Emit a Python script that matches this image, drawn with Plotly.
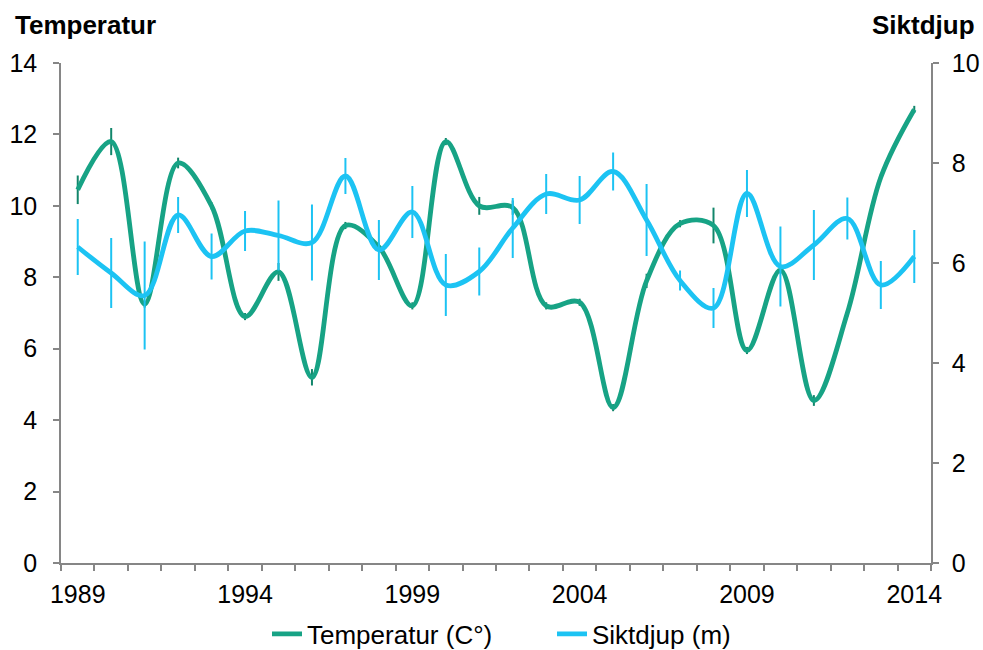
import plotly.graph_objects as go

years = list(range(1989, 2015))
temperatur = [10.45, 11.8, 7.25, 11.2, 10.0, 6.9, 8.15, 5.2, 9.45, 8.85, 7.2, 11.8,
              10.0, 9.95, 7.2, 7.3, 4.35, 7.9, 9.5, 9.45, 5.95, 8.2, 4.55, 7.0, 10.8, 12.7]
temp_err = [0.4, 0.38, 0.1, 0.15, 0.1, 0.1, 0.25, 0.23, 0.1, 0.1, 0.1, 0.1,
            0.25, 0.2, 0.1, 0.1, 0.1, 0.2, 0.1, 0.5, 0.1, 0.1, 0.15, 0.1, 0.1, 0.1]
siktdjup = [6.32, 5.8, 5.35, 6.96, 6.13, 6.64, 6.55, 6.41, 7.74, 6.26, 7.02, 5.56,
            5.83, 6.7, 7.38, 7.26, 7.83, 6.86, 5.65, 5.1, 7.39, 5.93, 6.36, 6.89, 5.56, 6.13]
sikt_err = [0.56, 0.7, 1.08, 0.36, 0.46, 0.4, 0.7, 0.76, 0.36, 0.6, 0.52, 0.62,
            0.48, 0.6, 0.4, 0.48, 0.38, 0.72, 0.2, 0.4, 0.47, 0.8, 0.7, 0.42, 0.48, 0.53]
xticks = [1989, 1994, 1999, 2004, 2009, 2014]

green = "#17A385"
blue = "#1CC3F3"
gray = "#868686"
font = "Liberation Sans, Arial, sans-serif"

W, H = 983, 650
L, R, T, B = 61, 52, 63, 87
PW, PH = W - L - R, H - T - B

fig = go.Figure()
fig.add_trace(go.Scatter(
    x=years, y=temperatur, name="Temperatur (C°)", mode="lines",
    line=dict(color=green, width=4.8, shape="spline", smoothing=1.0),
    error_y=dict(type="data", array=temp_err, visible=True, color="#12866B", thickness=2, width=0),
    yaxis="y"))
fig.add_trace(go.Scatter(
    x=years, y=siktdjup, name="Siktdjup (m)", mode="lines",
    line=dict(color=blue, width=4.8, shape="spline", smoothing=1.0),
    error_y=dict(type="data", array=sikt_err, visible=True, color=blue, thickness=2, width=0),
    yaxis="y2"))

fig.update_layout(
    width=W, height=H,
    margin=dict(l=L, r=R, t=T, b=B, autoexpand=False),
    paper_bgcolor="white", plot_bgcolor="white",
    font=dict(family=font, size=25, color="black"),
    showlegend=True,
    legend=dict(orientation="h", x=0.5 + 56 / PW, xanchor="center", y=-0.095, yanchor="top",
                font=dict(size=26), entrywidth=240, tracegroupgap=0),
    xaxis=dict(range=[1988.5, 2014.5], tickvals=xticks, ticktext=[str(v) for v in xticks],
               ticks="", showgrid=False, zeroline=False,
               showline=True, linecolor=gray, linewidth=1.5,
               tickfont=dict(size=25), ticklabelstandoff=8,
               minor=dict(tick0=1988.5, dtick=1, ticks="outside", ticklen=6,
                          tickcolor=gray, tickwidth=1.5, showgrid=False)),
    yaxis=dict(range=[0, 14], dtick=2, ticks="outside", ticklen=6, tickcolor=gray, tickwidth=1.5,
               showline=True, linecolor=gray, linewidth=1.5, showgrid=False, zeroline=False,
               tickfont=dict(size=25), ticklabelstandoff=11),
    yaxis2=dict(range=[0, 10], dtick=2, ticks="outside", ticklen=6, tickcolor=gray, tickwidth=1.5,
                showline=True, linecolor=gray, linewidth=1.5, showgrid=False, zeroline=False,
                overlaying="y", side="right", tickfont=dict(size=25), ticklabelstandoff=8),
    annotations=[
        dict(text="<b>Temperatur</b>", xref="paper", yref="paper", x=-L / PW, xanchor="left",
             y=1 + 38 / PH, yanchor="middle", showarrow=False, font=dict(size=26), xshift=13),
        dict(text="<b>Siktdjup</b>", xref="paper", yref="paper", x=1 + R / PW, xanchor="right",
             y=1 + 38 / PH, yanchor="middle", showarrow=False, font=dict(size=26), xshift=-6),
    ],
)

fig.write_html("out.html", config={"displayModeBar": False},
               post_script="document.body.style.margin='0';document.body.style.overflow='hidden';")
